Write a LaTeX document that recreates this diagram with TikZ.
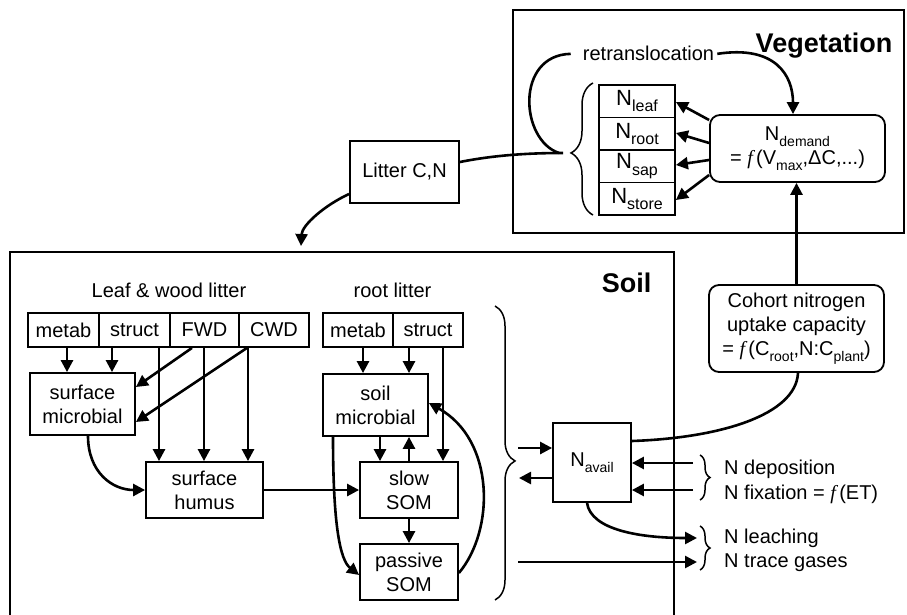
\documentclass[tikz,border=0pt]{standalone}
\usepackage{fontspec}
\setmainfont{Liberation Sans}
\newfontfamily\serfam{Liberation Serif}
\usetikzlibrary{arrows.meta,decorations.pathreplacing,calc}

% lowered subscript text and the italic function symbol
\newcommand{\subtx}[1]{\raisebox{-0.3em}{\fontsize{14}{14}\selectfont #1}}
\newcommand{\fofx}{{\serfam\itshape f}\,}
\newcommand{\Npool}[1]{{\fontsize{22}{22}\selectfont N}\raisebox{-0.32em}{\fontsize{16}{16}\selectfont #1}}

\begin{document}
\begin{tikzpicture}[x=1pt,y=-1pt,
  every node/.style={font=\fontsize{20}{24}\selectfont, inner sep=0pt},
  box/.style={draw, line width=1.8pt, align=center},
  rbox/.style={box, rounded corners=10pt},
  arr/.style={line width=2.6pt, -{Triangle[length=12pt,width=12pt]}},
  ln/.style={line width=2.6pt},
  frm/.style={line width=2.8pt},
  brc/.style 2 args={decorate, line width=1.5pt, decoration={brace, amplitude=#1, aspect=#2}},
  title/.style={font=\fontsize{27}{27}\selectfont\bfseries, anchor=base},
]
\useasboundingbox (0,0) rectangle (907,615);

% compartment frames
\draw[frm] (513,10) rectangle (904,233);
\draw[frm] (10,616) -- (10,252) -- (674,252) -- (674,616);
\node[title] (veglabel) at (824,53) {Vegetation};
\node[title] (soillabel) at (626.5,292) {Soil};

% ---------- vegetation ----------
\node[box, minimum width=109pt, minimum height=62pt] (litter) at (404.5,172) {Litter C,N};
\node[anchor=base] (retrans) at (648.5,61) {retranslocation};

\node[box, minimum width=76pt, minimum height=32.5pt] (nleaf)  at (637,101.25) {\Npool{leaf}};
\node[box, minimum width=76pt, minimum height=32.5pt] (nroot)  at (637,133.75) {\Npool{root}};
\node[box, minimum width=76pt, minimum height=32.5pt] (nsap)   at (637,166.25) {\Npool{sap}};
\node[box, minimum width=76pt, minimum height=32.5pt] (nstore) at (637,198.75) {\Npool{store}};

\node[rbox, minimum width=175pt, minimum height=67pt] (demand) at (797.5,148.5)
  {N\subtx{demand}\\= \fofx(V\subtx{max},ΔC,...)};
\node[rbox, minimum width=175pt, minimum height=87pt] (cohort) at (796.5,328.5)
  {Cohort nitrogen\\uptake capacity\\= \fofx(C\subtx{root},N:C\subtx{plant})};

\draw[brc={22pt}{0.47}] (593,215) -- (593,83);

\coordinate (btip) at (563,153);
\coordinate (rtstart) at (559,153);
\coordinate (soiltop) at (301,246);
\draw[ln] (litter.east |- 0,162) .. controls (495,155) and (530,153) .. (btip);
\draw[ln] (rtstart) .. controls (520,140) and (515,55) .. ([xshift=-12pt]retrans.west);
\draw[arr] ([xshift=3pt]retrans.east) .. controls (775,45) and (793,75) .. (demand.north -| 793,0);
\draw[arr] (litter.west |- 0,194) .. controls (325,205) and (302,225) .. (soiltop);

\draw[arr] (demand.west |- 0,120) -- (nleaf.east |- 0,102);
\draw[arr] (demand.west |- 0,143) -- (nroot.east |- 0,133);
\draw[arr] (demand.west |- 0,160) -- (nsap.east |- 0,165);
\draw[arr] (demand.west |- 0,175) -- (nstore.east |- 0,200);

\draw[arr] (cohort.north) -- (cohort.north |- demand.south);

% ---------- soil ----------
\node[anchor=base] (lwlabel) at (169,297) {Leaf \& wood litter};
\node[anchor=base] (rlabel) at (392.5,297) {root litter};

\node[box, minimum width=71pt, minimum height=34pt] (metab1)  at (63.5,330) {metab};
\node[box, minimum width=71pt, minimum height=34pt] (struct1) at (134.5,330) {struct};
\node[box, minimum width=69pt, minimum height=34pt] (fwd)     at (204.5,330) {FWD};
\node[box, minimum width=70pt, minimum height=34pt] (cwd)     at (274,330) {CWD};
\node[box, minimum width=70pt, minimum height=34pt] (metab2)  at (358,330) {metab};
\node[box, minimum width=70pt, minimum height=34pt] (struct2) at (428,330) {struct};

\node[box, minimum width=105pt, minimum height=62pt] (smic)    at (82.5,404) {surface\\microbial};
\node[box, minimum width=117pt, minimum height=56pt] (shumus)  at (204.5,490) {surface\\humus};
\node[box, minimum width=105pt, minimum height=62pt] (soilmic) at (375.5,405) {soil\\microbial};
\node[box, minimum width=98pt, minimum height=56pt]  (slowsom) at (409,490) {slow\\SOM};
\node[box, minimum width=98pt, minimum height=56pt]  (passive) at (409,572) {passive\\SOM};
\node[box, minimum width=78pt, minimum height=79pt]  (navail)  at (592,462.5) {N\subtx{avail}};

% surface litter flows
\draw[arr] (metab1.south -| 67,0) -- (smic.north -| 67,0);
\draw[arr] (struct1.south -| 112,0) -- (smic.north -| 112,0);
\draw[arr] (struct1.south -| 159,0) -- (shumus.north -| 159,0);
\draw[arr] (fwd.south -| 204,0) -- (shumus.north -| 204,0);
\draw[arr] (cwd.south -| 248,0) -- (shumus.north -| 248,0);
\draw[arr] (fwd.south -| 192,0) -- (smic.east |- 0,387);
\draw[arr] (cwd.south -| 247,0) -- (smic.east |- 0,422);
\draw[arr] (smic.south -| 88,0) .. controls (88,472) and (112,490) .. (shumus.west);
\draw[arr] (shumus.east) -- (slowsom.west);

% root litter and soil pools
\draw[arr] (metab2.south -| 363,0) -- (soilmic.north -| 363,0);
\draw[arr] (struct2.south -| 409,0) -- (soilmic.north -| 409,0);
\draw[arr] (struct2.south -| 443,0) -- (slowsom.north -| 443,0);
\draw[arr] (soilmic.south -| 380,0) -- (slowsom.north -| 380,0);
\draw[arr] (slowsom.north -| 409,0) -- (soilmic.south -| 409,0);
\draw[arr] (slowsom.south) -- (passive.north);
\draw[arr] (soilmic.south -| 333,0) .. controls (333,525) and (340,560) .. (passive.west |- 0,575);
\draw[arr] (passive.east |- 0,573) .. controls (495,530) and (495,440) .. (soilmic.east |- 0,403);

\draw[brc={20pt}{0.527}] (495,306) -- (495,600);

% mineral N exchanges
\coordinate (inL) at (518,448);
\coordinate (outL) at (519,478);
\coordinate (dep) at (693,463);
\coordinate (fix) at (693,490);
\coordinate (leach) at (697,538);
\coordinate (gasL) at (518,562);
\coordinate (gasR) at (697,562);
\draw[arr] (inL) -- (navail.west |- inL);
\draw[arr] (navail.west |- outL) -- (outL);
\draw[arr] (dep) -- (navail.east |- dep);
\draw[arr] (fix) -- (navail.east |- fix);
\draw[arr] (navail.south -| 587,0) .. controls (591,530) and (640,538) .. (leach);
\draw[arr] (gasL) -- (gasR);
\draw[ln] (cohort.south -| 798,0) .. controls (796,415) and (720,438) .. (navail.east |- 0,441);

\draw[brc={10pt}{0.5}] (700,455) -- (700,500);
\draw[brc={10pt}{0.5}] (700,526) -- (700,570);
\node[anchor=base west] (ndep)   at (724,474) {N deposition};
\node[anchor=base west] (nfix)   at (724,499) {N fixation = \fofx(ET)};
\node[anchor=base west] (nleach) at (724,543) {N leaching};
\node[anchor=base west] (ngas)   at (724,567) {N trace gases};
\end{tikzpicture}
\end{document}
